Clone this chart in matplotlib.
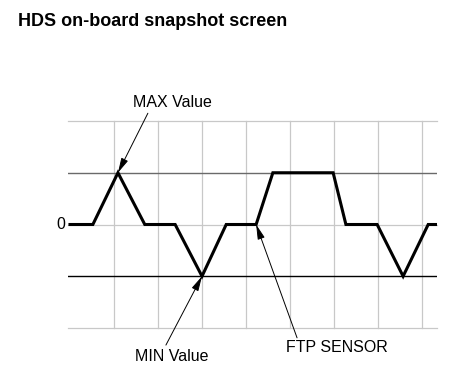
import matplotlib.pyplot as plt

# signal trace, x in grid columns, y in units of (MAX = 1, MIN = -1)
t_pts = [0.0, 0.52, 1.09, 1.70, 2.39, 3.0, 3.55, 4.23, 4.61, 5.98, 6.27, 6.98, 7.57, 8.14, 8.34]
v_pts = [0, 0, 1, 0, 0, -1, 0, 0, 1, 1, 0, 0, -1, 0, 0]

grid_cols = [1, 2, 3, 4, 5, 6, 7, 8]
grid_rows = [2, 0, -2]
max_level = 1
min_level = -1

max_point = (1.09, 1)
min_point = (3.0, -1)
ftp_point = (4.23, 0)

plt.rcParams['font.family'] = ['Liberation Sans', 'DejaVu Sans']

fig = plt.figure(figsize=(4.7, 3.89), dpi=100)
ax = fig.add_axes([68 / 470, 1 - 328 / 389, (437 - 68) / 470, (328 - 121) / 389])
ax.set_xlim(-0.045, 8.34)
ax.set_ylim(-2, 2)
ax.axis('off')

for c in grid_cols:
    ax.axvline(c, color='#c8c8c8', lw=0.9, clip_on=False, zorder=1)
for r in grid_rows:
    ax.axhline(r, color='#c8c8c8', lw=0.9, clip_on=False, zorder=1)
ax.axhline(max_level, color='#6a6a6a', lw=1.0, zorder=2)
ax.axhline(min_level, color='black', lw=1.0, zorder=2)

ax.plot(t_pts, v_pts, color='black', lw=2.2, solid_joinstyle='miter', zorder=3)

ax.text(-0.1, 0, '0', ha='right', va='center', fontsize=11.5)

arrow = dict(arrowstyle='-|>,head_length=0.9,head_width=0.22', color='black',
             lw=0.7, shrinkA=0, shrinkB=0, mutation_scale=10)
ax.annotate('', xy=max_point, xytext=(1.77, 2.15), arrowprops=arrow, zorder=4)
ax.annotate('', xy=min_point, xytext=(2.18, -2.33), arrowprops=arrow,
            annotation_clip=False, zorder=4)
ax.annotate('', xy=ftp_point, xytext=(5.16, -2.19), arrowprops=arrow,
            annotation_clip=False, zorder=4)

ax.text(2.32, 2.35, 'MAX Value', ha='center', va='center', fontsize=11.5, clip_on=False)
ax.text(2.32, -2.56, 'MIN Value', ha='center', va='center', fontsize=11.5, clip_on=False)
ax.text(6.07, -2.37, 'FTP SENSOR', ha='center', va='center', fontsize=11.5, clip_on=False)

fig.text(18 / 470, 1 - 22 / 389, 'HDS on-board snapshot screen', ha='left', va='center',
         fontsize=13, fontweight='bold')

fig.savefig('out.png', dpi=100)
